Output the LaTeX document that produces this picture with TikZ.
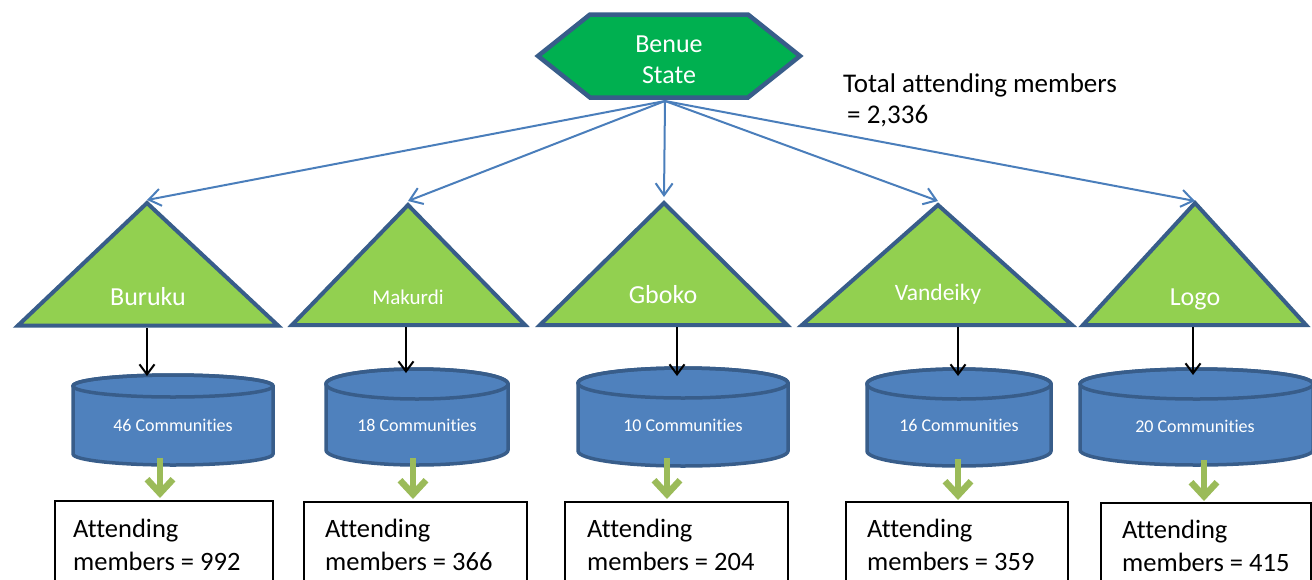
\documentclass[tikz,border=0pt]{standalone}
\usepackage{fontspec}
\setmainfont{Carlito}[Ligatures=CommonOff]
\usetikzlibrary{arrows.meta}
\definecolor{outl}{HTML}{385D8A}
\definecolor{hexfill}{HTML}{00B050}
\definecolor{trifill}{HTML}{92D050}
\definecolor{cylfill}{HTML}{4F81BD}
\definecolor{conn}{HTML}{4A7EBB}
\definecolor{garr}{HTML}{9BBB59}
\newcommand{\mycyl}[5]{% L R top bottom ry
  \path[cyl] (#1,{-(#3+#5)}) -- (#1,{-(#4-#5)})
    arc[start angle=180,end angle=360,x radius={(#2-#1)/2},y radius=#5]
    -- (#2,{-(#3+#5)})
    arc[start angle=0,end angle=180,x radius={(#2-#1)/2},y radius=#5] -- cycle;
  \draw[cylline] ({(#1+#2)/2},{-(#3+#5)}) ellipse [x radius={(#2-#1)/2},y radius=#5];
}
\begin{document}
\begin{tikzpicture}[x=1pt,y=1pt,
  tri/.style={fill=trifill,draw=outl,line width=4pt},
  hexa/.style={fill=hexfill,draw=outl,line width=4.5pt},
  cyl/.style={fill=cylfill,draw=outl,line width=3.5pt},
  cylline/.style={draw=outl,line width=3.5pt},
  wlbl/.style={text=white,inner sep=0pt,anchor=base},
  big/.style={font=\fontsize{26}{31}\selectfont},
  small/.style={font=\fontsize{18}{22}\selectfont},
  bluearr/.style={draw=conn,line width=2pt,-{Straight Barb[length=12pt,width=17pt]}},
  blackarr/.style={draw=black,line width=2pt,-{Straight Barb[length=10pt,width=15pt]}},
  greenarr/.style={draw=garr,line width=6.5pt,-{Straight Barb[length=14pt,width=26pt]}},
  resbox/.style={draw=black,line width=1.8pt,fill=white},
  boxtxt/.style={inner sep=0pt,anchor=base west,align=left,font=\fontsize{26.5}{33}\selectfont}]
\useasboundingbox (0,0) rectangle (1312,-579);

% hexagon
\draw[hexa] (538,-56) -- (590,-14.5) -- (748,-14.5) -- (800,-56) -- (748,-97.5) -- (590,-97.5) -- cycle;
\node[wlbl,big,align=center] (benue) at (669,-83) {Benue\\State};
\coordinate (hexbot) at (665,-101);

\node[inner sep=0pt,anchor=base west,align=left,font=\fontsize{27}{31}\selectfont] (total) at (843,-123) {Total attending members\\\hspace{4pt}= 2,336};

% triangles
\coordinate (a1) at (147,-200);
\coordinate (a2) at (408,-201);
\coordinate (a3) at (664,-197);
\coordinate (a4) at (938,-201);
\coordinate (a5) at (1195,-201);
\draw[tri] (147,-203) -- (278,-325.5) -- (18,-325.5) -- cycle;
\draw[tri] (408,-205) -- (525,-325) -- (292,-325) -- cycle;
\draw[tri] (664,-203) -- (787,-325) -- (540,-325) -- cycle;
\draw[tri] (938,-205) -- (1072,-325) -- (802,-325) -- cycle;
\draw[tri] (1195,-203) -- (1306,-325) -- (1083,-325) -- cycle;
\node[wlbl,big] (t1) at (148,-305) {Buruku};
\node[wlbl,font=\fontsize{21}{25}\selectfont] (t2) at (408,-304) {Makurdi};
\node[wlbl,big] (t3) at (663,-303) {Gboko};
\node[wlbl,font=\fontsize{23.5}{28}\selectfont] (t4) at (938,-300) {Vandeiky};
\node[wlbl,big] (t5) at (1195,-305) {Logo};

% blue connectors
\foreach \i in {1,...,5} \draw[bluearr] (hexbot) -- (a\i);

% cylinders
\mycyl{73}{273}{375}{465}{11}
\mycyl{326}{508}{369}{465}{15}
\mycyl{578}{788}{368}{466}{15}
\mycyl{867}{1051}{369}{466}{15}
\mycyl{1080}{1313}{369}{465}{15}
\node[wlbl,small] (c1) at (173,-431) {46 Communities};
\node[wlbl,small] (c2) at (417,-431) {18 Communities};
\node[wlbl,small] (c3) at (683,-431) {10 Communities};
\node[wlbl,small] (c4) at (959,-431) {16 Communities};
\node[wlbl,small] (c5) at (1195,-432) {20 Communities};

% black arrows
\coordinate (tb1) at (147,-328); \coordinate (ct1) at (147,-376);
\coordinate (tb2) at (406,-327); \coordinate (ct2) at (406,-373);
\coordinate (tb3) at (677,-327); \coordinate (ct3) at (677,-376);
\coordinate (tb4) at (958,-327); \coordinate (ct4) at (958,-376);
\coordinate (tb5) at (1193,-327); \coordinate (ct5) at (1193,-375);
\foreach \i in {1,...,5} \draw[blackarr] (tb\i) -- (ct\i);

% boxes
\draw[resbox] (55,-501) rectangle (273,-590);
\draw[resbox] (304,-502) rectangle (527,-590);
\draw[resbox] (565,-502) rectangle (788,-590);
\draw[resbox] (846,-502) rectangle (1068,-590);
\draw[resbox] (1101,-503) rectangle (1311,-590);
\node[boxtxt] (r1) at (73,-570) {Attending\\members = 992};
\node[boxtxt] (r2) at (325,-570) {Attending\\members = 366};
\node[boxtxt] (r3) at (587,-570) {Attending\\members = 204};
\node[boxtxt] (r4) at (867,-570) {Attending\\members = 359};
\node[boxtxt] (r5) at (1122,-571) {Attending\\members = 415};

% green arrows
\coordinate (cb1) at (160,-458); \coordinate (bt1) at (160,-498);
\coordinate (cb2) at (413,-458); \coordinate (bt2) at (413,-499);
\coordinate (cb3) at (667,-458); \coordinate (bt3) at (667,-499);
\coordinate (cb4) at (958,-459); \coordinate (bt4) at (958,-500);
\coordinate (cb5) at (1204,-460); \coordinate (bt5) at (1204,-501);
\foreach \i in {1,...,5} \draw[greenarr] (cb\i) -- (bt\i);
\end{tikzpicture}
\end{document}
